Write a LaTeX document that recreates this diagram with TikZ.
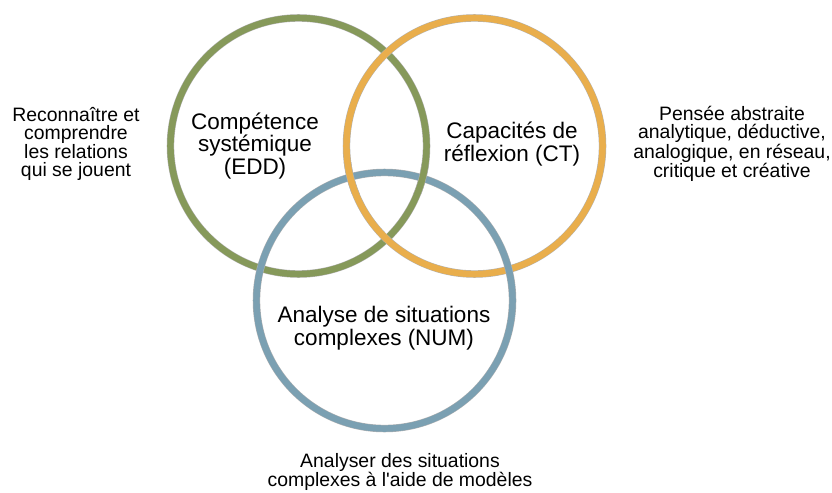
\documentclass[tikz,border=0pt]{standalone}
\usepackage{fontspec}
\setmainfont{Liberation Sans}
\definecolor{ringgreen}{RGB}{134,153,90}
\definecolor{ringorange}{RGB}{233,174,76}
\definecolor{ringblue}{RGB}{123,160,178}
\tikzset{ring/.style={draw=gray!60,line width=0.35pt,double=#1,double distance=4.6pt}}

\begin{document}
\begin{tikzpicture}[x=0.025cm,y=-0.025cm]
    \useasboundingbox (0,0) rectangle (832,492);
    \coordinate (G) at (298.5,146);
    \coordinate (O) at (474.5,146);
    \coordinate (B) at (384.5,300.5);

    \draw[ring=ringgreen] (G) circle [radius=3.2cm];
    \draw[ring=ringorange] (O) circle [radius=3.2cm];
    \draw[ring=ringblue] (B) circle [radius=3.2cm];
    % upper crossings: blue passes under
    \begin{scope}
      \clip (335,162) rectangle (366,193);
      \draw[ring=ringorange] (O) circle [radius=3.2cm];
    \end{scope}
    \begin{scope}
      \clip (407,163) rectangle (438,194);
      \draw[ring=ringgreen] (G) circle [radius=3.2cm];
    \end{scope}

    \begin{scope}[every node/.style={align=center,font=\fontsize{16}{16}\selectfont}]
      \node (EDD) at (255,146) {Compétence\\systémique\\(EDD)};
      \node (CT) at (512,144) {Capacités de\\réflexion (CT)};
      \node (NUM) at (384,328) {Analyse de situations\\complexes (NUM)};
    \end{scope}

    \begin{scope}[every node/.style={align=center,font=\fontsize{13.8}{13}\selectfont}]
      \node (L) at (76,144) {Reconnaître et\\comprendre\\les relations\\qui se jouent};
      \node (R) at (732,144) {Pensée abstraite\\analytique, déductive,\\analogique, en réseau,\\critique et créative};
      \node (D) at (400,472) {Analyser des situations\\complexes à l\textquotesingle aide de modèles};
    \end{scope}
\end{tikzpicture}
\end{document}
